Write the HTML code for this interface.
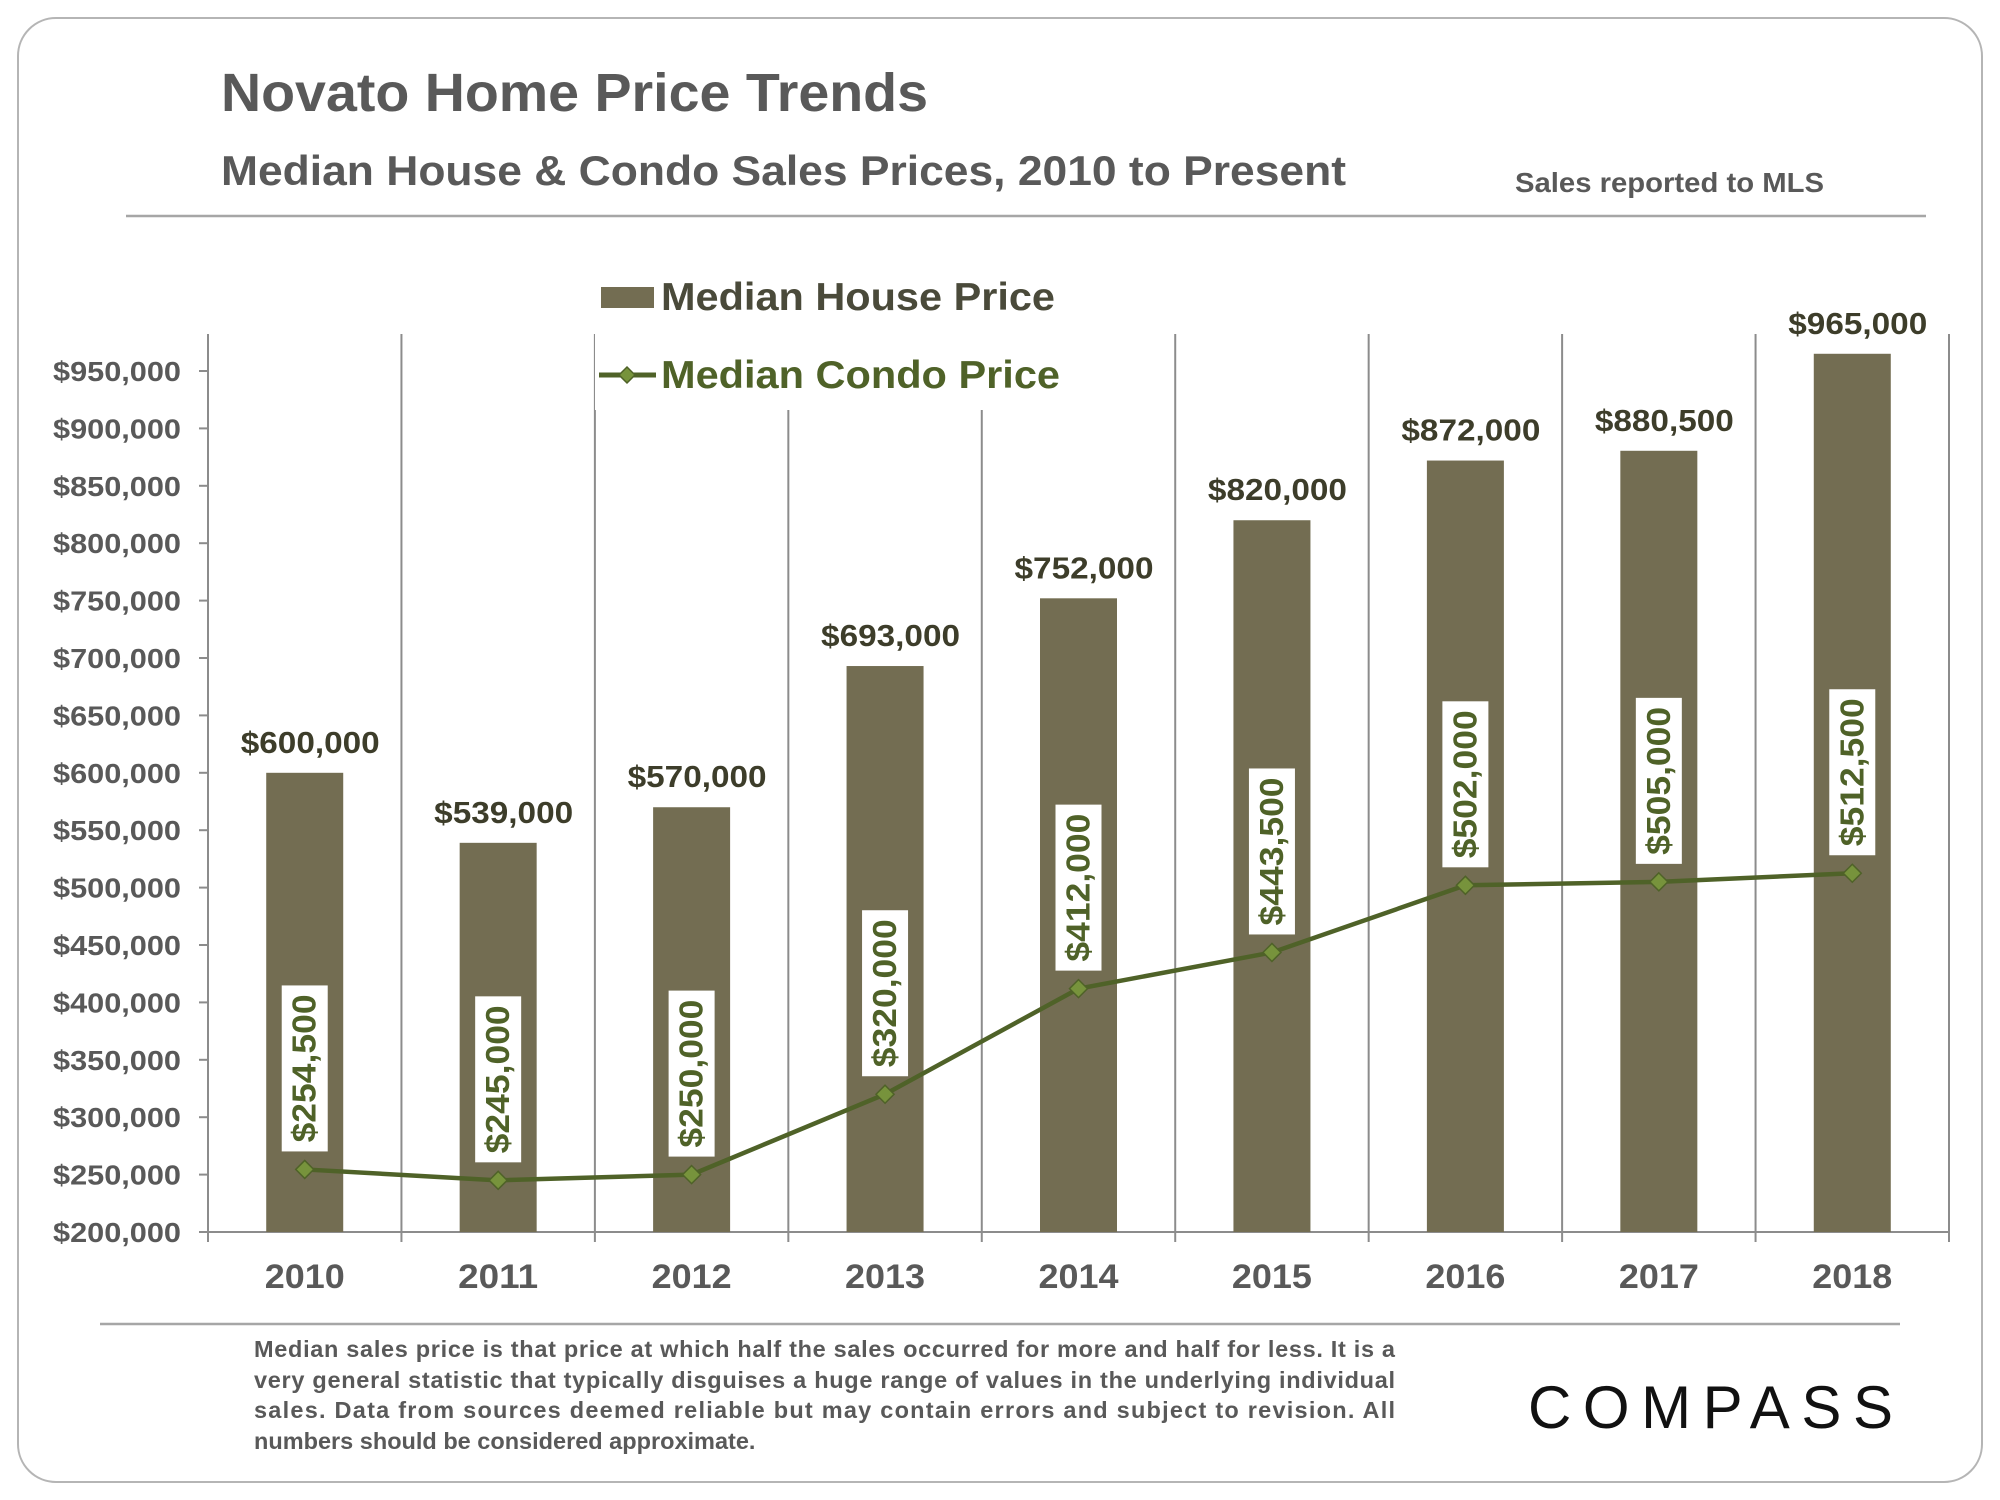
<!DOCTYPE html>
<html><head><meta charset="utf-8"><style>
html,body{margin:0;padding:0;background:#fff;}
svg{display:block;font-family:"Liberation Sans",Arial,sans-serif;}
</style></head><body>
<svg id="chart" width="2000" height="1500" viewBox="0 0 2000 1500" xmlns="http://www.w3.org/2000/svg">
<rect x="18" y="18" width="1964" height="1464" rx="38" fill="#fff" stroke="#b5b5b5" stroke-width="2"/>
<text x="221" y="111" font-size="54" font-weight="bold" fill="#595959" textLength="707" lengthAdjust="spacingAndGlyphs">Novato Home Price Trends</text>
<text x="221" y="185" font-size="42" font-weight="bold" fill="#595959" textLength="1125" lengthAdjust="spacingAndGlyphs">Median House &amp; Condo Sales Prices, 2010 to Present</text>
<text x="1515" y="192" font-size="28" font-weight="bold" fill="#595959" textLength="309" lengthAdjust="spacingAndGlyphs">Sales reported to MLS</text>
<line x1="126" y1="216" x2="1926" y2="216" stroke="#a6a6a6" stroke-width="2.5"/>
<g id="plot"></g>
<g>
<rect x="595" y="275" width="480" height="135" fill="#fff"/>
<rect x="601" y="287" width="53" height="21" fill="#736d52"/>
<text x="661" y="310" font-size="39" font-weight="bold" fill="#4a4a3a" textLength="394" lengthAdjust="spacingAndGlyphs">Median House Price</text>
<line x1="599" y1="375" x2="656" y2="375" stroke="#4f6228" stroke-width="5"/>
<path d="M627,367 L635,375 L627,383 L619,375 Z" fill="#77933c" stroke="#4f6228" stroke-width="1.5"/>
<text x="661" y="388" font-size="39" font-weight="bold" fill="#4f6228" textLength="399" lengthAdjust="spacingAndGlyphs">Median Condo Price</text>
</g>
<line x1="100" y1="1324" x2="1900" y2="1324" stroke="#a6a6a6" stroke-width="2.5"/>
<g font-size="23.5" font-weight="bold" fill="#595959">
<text x="254" y="1357" textLength="1141" lengthAdjust="spacing">Median sales price is that price at which half the sales occurred for more and half for less. It is a</text>
<text x="254" y="1388" textLength="1141" lengthAdjust="spacing">very general statistic that typically disguises a huge range of values in the underlying individual</text>
<text x="254" y="1418" textLength="1141" lengthAdjust="spacing">sales. Data from sources deemed reliable but may contain errors and subject to revision. All</text>
<text x="254" y="1449">numbers should be considered approximate.</text>
</g>
<text x="1528" y="1428" font-size="60" fill="#111" textLength="365" lengthAdjust="spacing">COMPASS</text>
</svg>
<script>
const years = ["2010","2011","2012","2013","2014","2015","2016","2017","2018"];
const housePrices = [600000,539000,570000,693000,752000,820000,872000,880500,965000];
const condoPrices = [254500,245000,250000,320000,412000,443500,502000,505000,512500];
const houseLabels = ["$600,000","$539,000","$570,000","$693,000","$752,000","$820,000","$872,000","$880,500","$965,000"];
const condoLabels = ["$254,500","$245,000","$250,000","$320,000","$412,000","$443,500","$502,000","$505,000","$512,500"];
const yTicks = [200000,250000,300000,350000,400000,450000,500000,550000,600000,650000,700000,750000,800000,850000,900000,950000];
const yTickLabels = ["$200,000","$250,000","$300,000","$350,000","$400,000","$450,000","$500,000","$550,000","$600,000","$650,000","$700,000","$750,000","$800,000","$850,000","$900,000","$950,000"];

const NS="http://www.w3.org/2000/svg";
const X0=208, X1=1949, YB=1232, YT=371, VMIN=200000, VMAX=950000;
const cw=(X1-X0)/years.length;
function xs(i){return X0+cw*(i+0.5);}
function ys(v){return YB-(v-VMIN)/(VMAX-VMIN)*(YB-YT);}
const plot=document.getElementById('plot');
function mk(tag,attrs,parent){const e=document.createElementNS(NS,tag);for(const k in attrs)e.setAttribute(k,attrs[k]);(parent||plot).appendChild(e);return e;}

for(let i=1;i<=years.length;i++){
  const g=mk('line',{x1:X0+cw*i,x2:X0+cw*i,y1:334,y2:YB+10,stroke:'#8c8c8c','stroke-width':2});
  
  
}
const ya=mk('line',{x1:X0,x2:X0,y1:334,y2:YB+10,stroke:'#8c8c8c','stroke-width':2});


const xa=mk('line',{x1:X0,x2:X1,y1:YB,y2:YB,stroke:'#8c8c8c','stroke-width':2});


yTicks.forEach((v,i)=>{
  const t=mk('line',{x1:X0-9,x2:X0,y1:ys(v),y2:ys(v),stroke:'#8c8c8c','stroke-width':2});
  
  
  const l=mk('text',{x:53,y:ys(v)+10,'font-size':28,'font-weight':'bold',fill:'#595959',textLength:128,lengthAdjust:'spacingAndGlyphs'});
  l.textContent=yTickLabels[i];
  
  
});
years.forEach((yr,i)=>{
  const x=xs(i), y=ys(housePrices[i]);
  const b=mk('rect',{x:x-38.5,y:y,width:77,height:YB-y,fill:'#736d52'});
  
  
  const l=mk('text',{x:x+5-69,y:y-20,'font-size':31,'font-weight':'bold',fill:'#3d3d2a',textLength:139,lengthAdjust:'spacingAndGlyphs'});
  l.textContent=houseLabels[i];
  
  
  const xl=mk('text',{x:x-40,y:1288,'font-size':34,'font-weight':'bold',fill:'#595959',textLength:80,lengthAdjust:'spacingAndGlyphs'});
  xl.textContent=yr;
  
  
});
const pts=condoPrices.map((v,i)=>xs(i)+','+ys(v)).join(' ');
const pl=mk('polyline',{points:pts,fill:'none',stroke:'#4f6228','stroke-width':4.5});


condoPrices.forEach((v,i)=>{
  const x=xs(i), y=ys(v);
  const m=mk('path',{d:`M${x},${y-9} L${x+9},${y} L${x},${y+9} L${x-9},${y} Z`,fill:'#77933c',stroke:'#4f6228','stroke-width':1.5});
  
  
  const bottom=y-18, h=166;
  const box=mk('rect',{x:x-23,y:bottom-h,width:46,height:h,fill:'#fff'});
  
  
  const t=mk('text',{x:0,y:0,'text-anchor':'middle','font-size':33,'font-weight':'bold',fill:'#4f6228',transform:`translate(${x+11},${bottom-h/2}) rotate(-90)`,textLength:148,lengthAdjust:'spacingAndGlyphs'});
  t.textContent=condoLabels[i];
  
  
});
</script>
</body></html>
